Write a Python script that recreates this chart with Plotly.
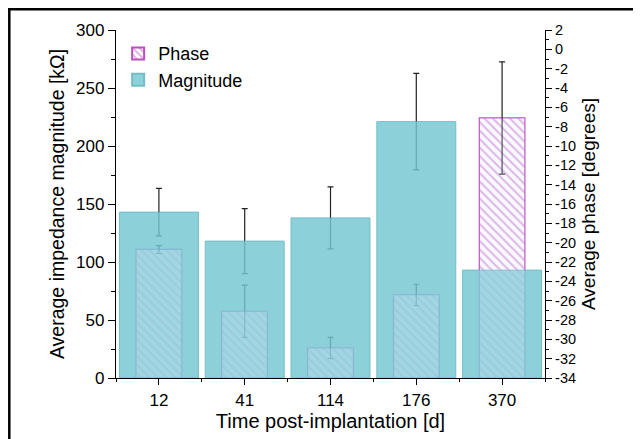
import plotly.graph_objects as go

# data
days = ["12", "41", "114", "176", "370"]
magnitude = [143, 118, 138, 221, 93]          # kOhm
magnitude_err = [20.5, 28, 26.7, 41.6, 18.4]
phase = [-20.7, -27.1, -30.9, -25.4, -7.1]     # degrees
phase_err = [0.4, 2.7, 1.1, 1.1, 5.8]

PHASE_MIN, PHASE_MAX = -34, 2
MAG_RANGE = [0, 300]

# the page puts the figure 8px in from the top-left corner
W, H = 641, 439
L, R, T, B = 108, 104, 22, 69

FONT = "Arial, Liberation Sans, sans-serif"
CYAN = "#73c8d2"
CYAN_EDGE = "#55b0b8"
MAGENTA = "#bb4fbd"
ERR = "#222222"

idx = list(range(len(days)))
err_style = dict(type="data", color=ERR, thickness=1.2, width=3)
phase_len = [p - PHASE_MIN for p in phase]

fig = go.Figure()

# layer order follows the axes: y (mag errors), y2 (phase bars),
# y3 (magnitude bars, translucent), y4 (light wash over the phase bars)
fig.add_trace(go.Bar(
    x=idx, y=phase_len, base=PHASE_MIN,
    width=0.53, name="Phase", yaxis="y2",
    marker=dict(color="white", line=dict(color=MAGENTA, width=1.3),
                pattern=dict(shape="\\", fgcolor=MAGENTA, bgcolor="white",
                             size=6, solidity=0.35)),
    error_y=dict(array=phase_err, **err_style),
))

fig.add_trace(go.Bar(
    x=idx, y=magnitude, width=0.92, name="Magnitude", yaxis="y3",
    opacity=0.82,
    marker=dict(color=CYAN, line=dict(color=CYAN_EDGE, width=1)),
))

fig.add_trace(go.Scatter(
    x=idx, y=magnitude, mode="markers", yaxis="y", showlegend=False,
    marker=dict(size=1, color="rgba(0,0,0,0)"),
    error_y=dict(array=magnitude_err, **err_style), hoverinfo="skip",
))

fig.add_trace(go.Bar(
    x=idx, y=phase_len, base=PHASE_MIN, width=0.53, yaxis="y4",
    showlegend=False, hoverinfo="skip",
    marker=dict(color="rgba(232,236,255,0.24)", line=dict(width=0)),
))

phase_ticks = list(range(PHASE_MIN, PHASE_MAX + 1, 2))

fig.update_layout(
    width=W, height=H,
    margin=dict(l=L, r=R, t=T, b=B),
    paper_bgcolor="white", plot_bgcolor="white",
    barmode="overlay",
    font=dict(family=FONT, size=17, color="black"),
    showlegend=True,
    legend=dict(x=0.005, y=0.985, xanchor="left", yanchor="top",
                bgcolor="rgba(0,0,0,0)", font=dict(size=18),
                tracegroupgap=2, itemsizing="constant"),
    xaxis=dict(
        range=[-0.5, len(days) - 0.5],
        tickvals=idx, ticktext=days,
        showline=True, linecolor="black", linewidth=1.3, mirror=False,
        ticks="outside", ticklen=6, tickcolor="black", tickwidth=1.3,
        minor=dict(dtick=0.5, tick0=0.5, ticks="outside", ticklen=3,
                   tickcolor="black", tickwidth=1.3),
        showgrid=False, zeroline=False,
        title=dict(text="Time post-implantation [d]", font=dict(size=20), standoff=4),
        tickfont=dict(size=17),
    ),
    yaxis=dict(
        range=MAG_RANGE, side="left",
        dtick=50, ticks="outside", ticklen=7, tickcolor="black", tickwidth=1.3,
        minor=dict(dtick=25, ticks="outside", ticklen=4, tickcolor="black", tickwidth=1.3),
        showline=True, linecolor="black", linewidth=1.3,
        showgrid=False, zeroline=False,
        title=dict(text="Average impedance magnitude [kΩ]", font=dict(size=19.5), standoff=6),
        tickfont=dict(size=17),
    ),
    yaxis2=dict(
        range=[PHASE_MIN, PHASE_MAX], side="right", overlaying="y",
        tickvals=phase_ticks, ticktext=[str(v) for v in phase_ticks],
        ticks="outside", ticklen=6, tickcolor="black", tickwidth=1.3,
        minor=dict(dtick=1, ticks="outside", ticklen=3, tickcolor="black", tickwidth=1.3),
        showline=True, linecolor="black", linewidth=1.3,
        showgrid=False, zeroline=False,
        title=dict(text="Average phase [degrees]", font=dict(size=19), standoff=6),
        tickfont=dict(size=14.5),
    ),
    yaxis3=dict(range=MAG_RANGE, overlaying="y", visible=False),
    yaxis4=dict(range=[PHASE_MIN, PHASE_MAX], overlaying="y", visible=False),
)

# outer frame of the figure (only the top and left edges show)
pw, ph = W - L - R, H - T - B
def px(xp):
    return (xp - L) / pw
def py(yp):
    return (H - B - yp) / ph

fig.add_shape(type="line", xref="paper", yref="paper",
              x0=px(0), x1=px(W + 2), y0=py(1.3), y1=py(1.3),
              line=dict(color="black", width=2.5))
fig.add_shape(type="line", xref="paper", yref="paper",
              x0=px(1.3), x1=px(1.3), y0=py(0), y1=py(H + 2),
              line=dict(color="black", width=2.5))

fig.write_html("out.html")
